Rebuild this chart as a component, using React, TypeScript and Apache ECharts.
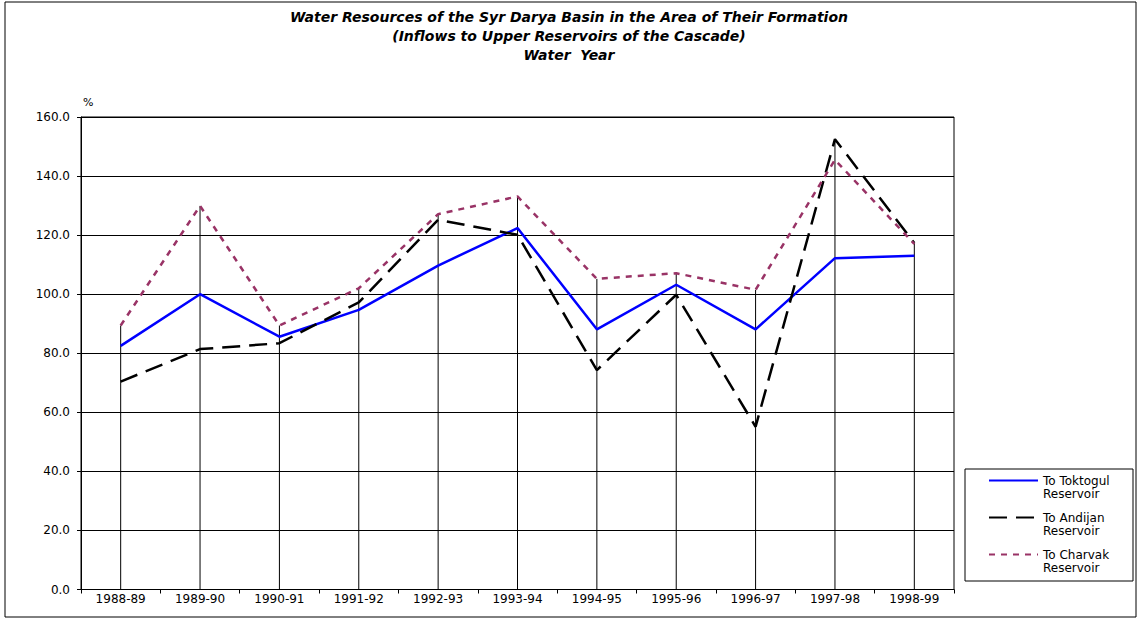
import React, { useEffect, useRef } from "react";
import * as echarts from "echarts";

const categories = ["1988-89", "1989-90", "1990-91", "1991-92", "1992-93", "1993-94", "1994-95", "1995-96", "1996-97", "1997-98", "1998-99"];
const toktogul = [82.5, 100.0, 85.6, 94.7, 109.7, 122.4, 88.1, 103.2, 88.1, 112.2, 113.0];
const andijan = [70.4, 81.4, 83.4, 97.2, 125.2, 120.1, 74.3, 99.8, 55.1, 152.5, 117.3];
const charvak = [89.4, 129.9, 89.4, 102.0, 127.1, 133.1, 105.2, 107.1, 101.5, 145.5, 117.0];
const seriesNames = ["To Toktogul Reservoir", "To Andijan Reservoir", "To Charvak Reservoir"];
const titleLines = [
  "Water Resources of the Syr Darya Basin in the Area of Their Formation",
  "(Inflows to Upper Reservoirs of the Cascade)",
  "Water  Year",
];
const yMin = 0;
const yMax = 160;
const yStep = 20;

const LABEL_FONT = "'DejaVu Sans', sans-serif";

export default function App() {
  const ref = useRef<HTMLDivElement>(null);
  useEffect(() => {
    if (!ref.current) return;
    const chart = echarts.init(ref.current, null, { renderer: "svg" });
    const dropData = categories.map((_, i) => [i, Math.max(toktogul[i], andijan[i], charvak[i])]);
    chart.setOption({
      animation: false,
      backgroundColor: "#fff",
      title: {
        text: titleLines.join("\n"),
        left: "center",
        top: 2,
        textStyle: {
          fontFamily: LABEL_FONT,
          fontStyle: "italic",
          fontWeight: "bold",
          fontSize: 14,
          lineHeight: 19,
          color: "#000",
        },
      },
      grid: { left: 81, right: 184, top: 117, bottom: 29.5, show: true, borderColor: "#000", borderWidth: 1, backgroundColor: "transparent" },
      legend: {
        data: seriesNames,
        orient: "vertical",
        left: 988,
        top: 461,
        padding: 0,
        itemWidth: 49,
        itemGap: -2,
        itemStyle: { opacity: 0 },
        formatter: (n: string) => "\n" + n.replace(" Reservoir", "\nReservoir"),
        textStyle: { fontFamily: LABEL_FONT, fontSize: 12, lineHeight: 13, color: "#000" },
      },
      xAxis: {
        type: "category",
        data: categories,
        boundaryGap: true,
        axisLine: { lineStyle: { color: "#000", width: 1 } },
        axisTick: { show: true, length: 4, interval: 0, lineStyle: { color: "#000" } },
        axisLabel: { interval: 0, margin: 3, fontFamily: LABEL_FONT, fontSize: 12, color: "#000" },
        splitLine: { show: false },
      },
      yAxis: {
        type: "value",
        min: yMin,
        max: yMax,
        interval: yStep,
        name: "%",
        nameLocation: "end",
        nameGap: 9,
        nameTextStyle: { fontFamily: LABEL_FONT, fontSize: 11, color: "#000", align: "left", padding: [0, 0, 0, 2] },
        axisLine: { show: true, lineStyle: { color: "#000", width: 1 } },
        axisTick: { show: true, length: 4, lineStyle: { color: "#000" } },
        axisLabel: { margin: 11, fontFamily: LABEL_FONT, fontSize: 12, color: "#000", formatter: (v: number) => v.toFixed(1) },
        splitLine: { show: true, lineStyle: { color: "#000", width: 1 } },
      },
      series: [
        {
          type: "custom",
          name: "drop",
          z: 1,
          silent: true,
          data: dropData,
          renderItem: (params: any, api: any) => {
            const top = api.coord([api.value(0), api.value(1)]);
            const bottom = api.coord([api.value(0), 0]);
            return {
              type: "line",
              shape: { x1: top[0], y1: top[1], x2: bottom[0], y2: bottom[1] },
              style: { stroke: "#000", lineWidth: 1 },
            };
          },
        },
        {
          type: "line",
          name: seriesNames[0],
          data: toktogul,
          symbol: "none",
          z: 3,
          itemStyle: { color: "#0000FF" },
          lineStyle: { color: "#0000FF", width: 2.5, type: "solid" },
        },
        {
          type: "line",
          name: seriesNames[1],
          data: andijan,
          symbol: "none",
          z: 3,
          itemStyle: { color: "#000" },
          lineStyle: { color: "#000", width: 2.5, type: [18, 9] },
        },
        {
          type: "line",
          name: seriesNames[2],
          data: charvak,
          symbol: "none",
          z: 3,
          itemStyle: { color: "#993366" },
          lineStyle: { color: "#993366", width: 2.5, type: [6, 6] },
        },
      ],
      graphic: [
        { type: "rect", shape: { x: 5, y: 2, width: 1131, height: 615 }, style: { fill: "none", stroke: "#000", lineWidth: 1 }, silent: true },
        { type: "rect", shape: { x: 965, y: 469, width: 168, height: 112 }, style: { fill: "none", stroke: "#000", lineWidth: 1 }, silent: true },
      ],
    });
    return () => chart.dispose();
  }, []);
  return <div ref={ref} style={{ position: "fixed", left: 0, top: 0, width: 1138, height: 619 }} />;
}
